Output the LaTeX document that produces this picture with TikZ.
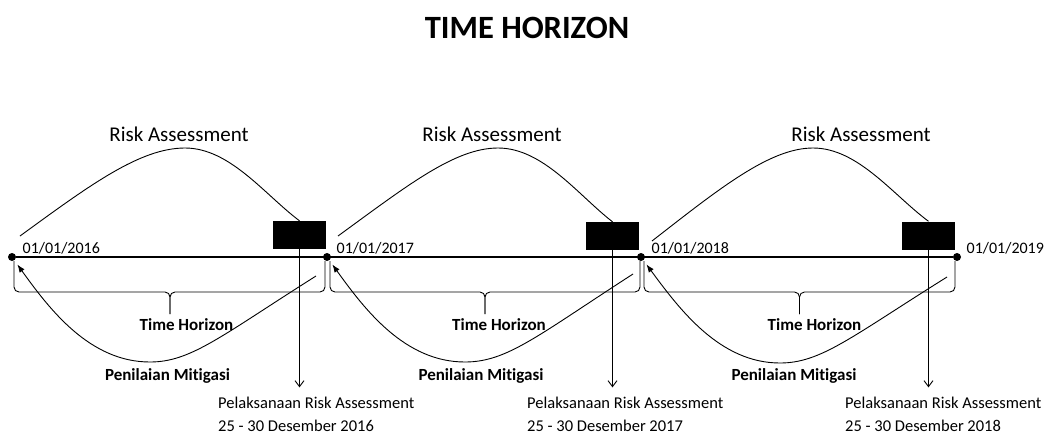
\documentclass[tikz,border=0pt]{standalone}
\usepackage{fontspec}
\setmainfont{Carlito}[Ligatures=NoCommon]
\usetikzlibrary{arrows.meta}

\begin{document}
\begin{tikzpicture}[x=1pt, y=-1pt,
  dot/.style={circle, fill=black, inner sep=0pt, minimum size=8pt},
  box/.style={fill=black, inner sep=0pt, minimum width=53pt, minimum height=28pt},
  timeline/.style={line width=2pt},
  curveline/.style={line width=0.9pt},
  mitarrow/.style={curveline, -{Latex[length=8pt,width=6pt]}, shorten >=5pt},
  downarrow/.style={curveline, -{Straight Barb[length=6pt,width=9pt]}, shorten >=9pt},
  bracket/.style={curveline, rounded corners=5pt},
  titletext/.style={inner sep=0pt, anchor=base, font=\fontsize{32.5}{36}\selectfont\bfseries},
  risktext/.style={inner sep=0pt, anchor=base, font=\fontsize{21}{25}\selectfont},
  datetext/.style={inner sep=0pt, anchor=base west, font=\fontsize{16}{19}\selectfont},
  boldtext/.style={inner sep=0pt, anchor=base, font=\fontsize{17}{20}\selectfont\bfseries},
  plaintext/.style={inner sep=0pt, anchor=base west, font=\fontsize{16.5}{20}\selectfont}]
\useasboundingbox (0,0) rectangle (1054,437);
\node[titletext] (title) at (527,38) {TIME HORIZON};
% timeline with its four dates
\node[dot] (d16) at (12,257) {};
\node[dot] (d17) at (327,257) {};
\node[dot] (d18) at (641,257) {};
\node[dot] (d19) at (957,257) {};
\draw[timeline] (d16) -- (d19);
\node[datetext] (t16) at (22.5,253) {01/01/2016};
\node[datetext] (t17) at (336.5,253) {01/01/2017};
\node[datetext] (t18) at (651.5,253) {01/01/2018};
\node[datetext] (t19) at (966.5,253) {01/01/2019};
% black boxes, left to right
\node[box] (r16) at (299.5,235) {};
\node[box] (r17) at (612.5,236) {};
\node[box] (r18) at (928.5,235.5) {};
% risk assessment arcs above the line
\coordinate (a16) at (20,236);
\coordinate (a17) at (338,236);
\coordinate (a18) at (652,241);
\draw[curveline] (a16) .. controls (90,185) and (140,148) .. (185,148) .. controls (230,148) and (265,195) .. (r16.north);
\draw[curveline] (a17) .. controls (408,185) and (455,148) .. (498,148) .. controls (543,148) and (578,195) .. (r17.north);
\draw[curveline] (a18) .. controls (720,188) and (770,148) .. (813,148) .. controls (858,148) and (893,195) .. (r18.north);
\node[risktext] (ra16) at (179,141.5) {Risk Assessment};
\node[risktext] (ra17) at (492,141.5) {Risk Assessment};
\node[risktext] (ra18) at (861,141.5) {Risk Assessment};
% time horizon brackets
\draw[bracket] (14,261) |- (170,292) -- (170,314);
\draw[bracket] (325,261) |- (170,292) -- (170,314);
\draw[bracket] (330,261) |- (485,292) -- (485,314);
\draw[bracket] (640,261) |- (485,292) -- (485,314);
\draw[bracket] (644,261) |- (799.5,292) -- (799.5,314);
\draw[bracket] (955,261) |- (799.5,292) -- (799.5,314);
\node[boldtext] (h16) at (186.5,330) {Time Horizon};
\node[boldtext] (h17) at (499,330) {Time Horizon};
\node[boldtext] (h18) at (814.5,330) {Time Horizon};
% mitigation arcs back to each start date
\coordinate (m16) at (316,276);
\coordinate (m17) at (633,274);
\coordinate (m18) at (947,277);
\draw[mitarrow] (m16) .. controls (221,336) and (191,362) .. (150,362) .. controls (90,362) and (50,310) .. (d16);
\draw[mitarrow] (m17) .. controls (537,336) and (507,362) .. (465,362) .. controls (405,362) and (365,310) .. (d17);
\draw[mitarrow] (m18) .. controls (851,337) and (821,363) .. (780,363) .. controls (720,363) and (680,310) .. (d18);
\node[boldtext] (pm16) at (167.5,380) {Penilaian Mitigasi};
\node[boldtext] (pm17) at (481,380) {Penilaian Mitigasi};
\node[boldtext] (pm18) at (794,380) {Penilaian Mitigasi};
% execution dates below
\node[plaintext] (p16) at (218,408) {Pelaksanaan Risk Assessment};
\node[plaintext] (p17) at (527,408) {Pelaksanaan Risk Assessment};
\node[plaintext] (p18) at (845,408) {Pelaksanaan Risk Assessment};
\node[plaintext] (q16) at (218,431.5) {25 - 30 Desember 2016};
\node[plaintext] (q17) at (527,431.5) {25 - 30 Desember 2017};
\node[plaintext] (q18) at (845,431.5) {25 - 30 Desember 2018};
\draw[downarrow] (r16) -- (r16 |- p16.north);
\draw[downarrow] (r17) -- (r17 |- p17.north);
\draw[downarrow] (r18) -- (r18 |- p18.north);
\end{tikzpicture}
\end{document}
